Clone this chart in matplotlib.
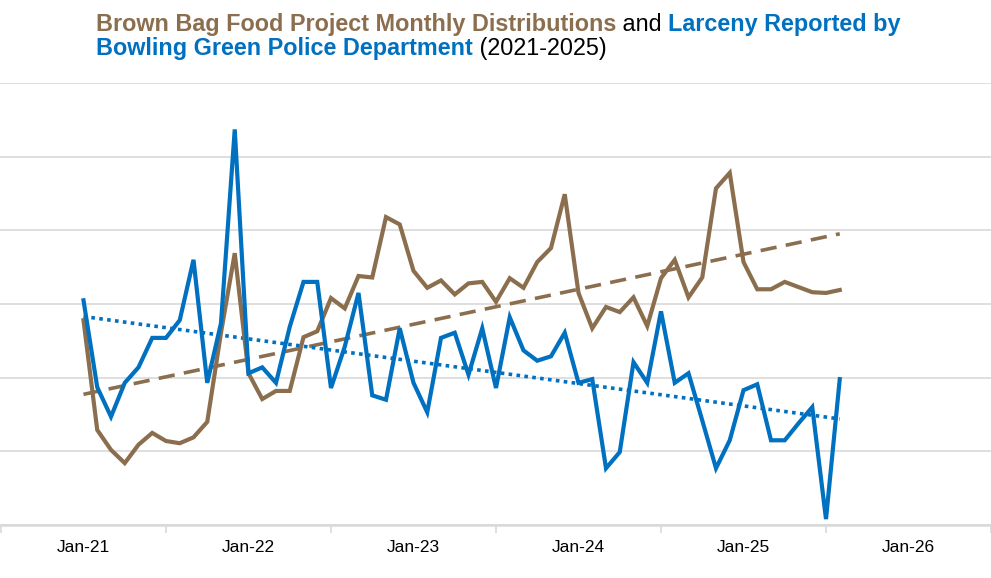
import numpy as np
import matplotlib
matplotlib.use("Agg")
import matplotlib.pyplot as plt
from matplotlib.offsetbox import TextArea, HPacker, AnchoredOffsetbox

# ---- data (monthly, Jan-2021 .. Aug-2025), arbitrary relative units ----
months = np.arange(56)  # months since Jan-21
larceny = [30.5, 18.7, 14.7, 19.3, 21.4, 25.4, 25.4, 27.8, 36.0, 19.3, 27.4, 53.7,
           20.6, 21.4, 19.3, 26.9, 33.0, 33.0, 18.6, 24.2, 31.5, 17.6, 17.0, 26.7,
           19.3, 15.3, 25.4, 26.1, 20.4, 26.7, 18.6, 28.2, 23.7, 22.3, 22.9, 26.1,
           19.3, 19.8, 7.7, 9.9, 22.1, 19.3, 29.0, 19.3, 20.6, 14.2, 7.7, 11.5,
           18.3, 19.1, 11.5, 11.5, 13.8, 16.0, 0.8, 19.8]
brownbag = [27.8, 12.9, 10.2, 8.4, 10.9, 12.5, 11.4, 11.1, 11.9, 14.0, 26.1, 36.9,
            20.6, 17.1, 18.2, 18.2, 25.5, 26.3, 30.8, 29.4, 33.8, 33.6, 41.8, 40.8,
            34.5, 32.2, 33.2, 31.3, 32.8, 33.0, 30.3, 33.5, 32.2, 35.7, 37.6, 44.9,
            31.5, 26.7, 29.6, 28.9, 30.9, 27.0, 33.5, 36.0, 30.9, 33.6, 45.7, 47.8,
            35.7, 32.0, 32.0, 33.0, 32.3, 31.6, 31.5, 31.9]
tick_labels = ["Jan-21", "Jan-22", "Jan-23", "Jan-24", "Jan-25", "Jan-26"]

BROWN = "#8B6E4E"
BLUE = "#0070C0"
GRID = "#D9D9D9"

plt.rcParams['font.family'] = ['Liberation Sans', 'DejaVu Sans']

W, H = 991, 578
fig = plt.figure(figsize=(W / 100, H / 100), dpi=100)
ax = fig.add_axes([0.0, 1 - 525 / H, 1.0, (525 - 83) / H])

ax.plot(months, brownbag, color=BROWN, lw=3, solid_joinstyle='miter', zorder=3)
ax.plot(months, larceny, color=BLUE, lw=3, solid_joinstyle='miter', zorder=4)

# linear trendlines
for vals, col, dashes in [(brownbag, BROWN, (4.5, 2.6)), (larceny, BLUE, (1.0, 1.2))]:
    p = np.polyfit(months, vals, 1)
    fit = np.polyval(p, months)
    ax.plot(months, fit, color=col, lw=2.6, dashes=dashes, dash_capstyle='butt', zorder=2)

px_per_month = 833.0 / 60
x0 = -6 - 1 / px_per_month
ax.set_xlim(x0, x0 + W / px_per_month)
ax.set_ylim(0, 60)

ax.set_yticks(np.arange(0, 61, 10))
ax.yaxis.grid(True, color=GRID, lw=1.2)
ax.tick_params(axis='y', left=False, labelleft=False)

ax.set_xticks(np.arange(0, 61, 12))
ax.set_xticklabels(tick_labels)
ax.set_xticks(np.arange(-6, 67, 12), minor=True)
ax.tick_params(axis='x', which='major', length=0, pad=10.5, labelsize=12.5, labelcolor='black')
ax.tick_params(axis='x', which='minor', length=6, width=1.2, color=GRID, direction='out')

for s in ['top', 'left', 'right']:
    ax.spines[s].set_visible(False)
ax.spines['bottom'].set_color(GRID)
ax.spines['bottom'].set_linewidth(1.8)
ax.set_axisbelow(True)

# ---- multi-coloured title (two lines) ----
fs = 16.8
def ta(s, col, bold):
    return TextArea(s, textprops=dict(color=col, fontsize=fs, fontweight='bold' if bold else 'normal'))

lines = [
    [("Brown Bag Food Project Monthly Distributions", BROWN, True),
     (" and ", 'black', False),
     ("Larceny Reported by", BLUE, True)],
    [("Bowling Green Police Department", BLUE, True),
     (" (2021-2025)", 'black', False)],
]
tops = [13, 36.5]
for parts, top in zip(lines, tops):
    box = HPacker(children=[ta(*p) for p in parts], align='baseline', pad=0, sep=0)
    anch = AnchoredOffsetbox(loc='upper left', child=box, pad=0, borderpad=0, frameon=False,
                             bbox_to_anchor=(96 / W, 1 - top / H), bbox_transform=fig.transFigure)
    fig.add_artist(anch)

fig.savefig("out.png", dpi=100, facecolor='white')
